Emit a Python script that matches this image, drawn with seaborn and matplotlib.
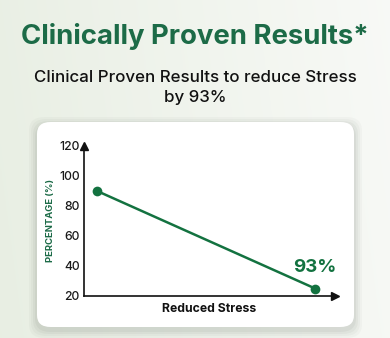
import numpy as np
import matplotlib
matplotlib.use("Agg")
import matplotlib.pyplot as plt
import seaborn as sns
import pandas as pd
from matplotlib.patches import FancyBboxPatch

stages = ["Start", "End"]
x_pos = [0, 1]
percentage = [90, 25]
y_ticks = [20, 40, 60, 80, 100, 120]
highlight_label = "93%"

sns.set_theme(style="white")
plt.rcParams['font.family'] = ['Inter', 'DejaVu Sans']

W, H = 390, 338
fig = plt.figure(figsize=(W/100, H/100), dpi=100)

# background gradient
bg = fig.add_axes([0, 0, 1, 1])
gx = np.linspace(0, 1, 200)
gy = np.linspace(0, 1, 200)
GX, GY = np.meshgrid(gx, gy)
c1 = np.array([0.91, 0.935, 0.89])
c2 = np.array([0.975, 0.98, 0.97])
t = np.clip(GX * 0.85 + (1 - GY) * 0.1, 0, 1)[..., None]
img = c1 * (1 - t) + c2 * t
bg.imshow(img, extent=[0, 1, 0, 1], aspect='auto', origin='upper')
bg.set_xlim(0, 1); bg.set_ylim(0, 1); bg.axis('off')

def fx(px): return px / W
def fy(py): return 1 - py / H

# shadow + card
for i, a in enumerate([0.035, 0.04, 0.05, 0.06]):
    pad = 8 - 2 * i
    sh = FancyBboxPatch((fx(37 - pad), fy(327 + pad + 3)), fx(317 + 2 * pad), (205 + 2 * pad) / H,
                        boxstyle="round,pad=0,rounding_size=0.04", transform=fig.transFigure,
                        facecolor=(0.3, 0.35, 0.3, a), edgecolor='none', zorder=1)
    fig.patches.append(sh)
card = FancyBboxPatch((fx(37), fy(327)), fx(317), 205 / H,
                      boxstyle="round,pad=0,rounding_size=0.035", transform=fig.transFigure,
                      facecolor='white', edgecolor='none', zorder=2)
fig.patches.append(card)

fig.text(0.5, fy(36), "Clinically Proven Results*", ha='center', va='center',
         fontsize=19.8, fontweight='bold', color='#1c6b47')
fig.text(0.5, fy(77), "Clinical Proven Results to reduce Stress", ha='center', va='center',
         fontsize=12.2, fontweight='medium', color='#111111')
fig.text(0.5, fy(98), "by 93%", ha='center', va='center',
         fontsize=12.2, fontweight='medium', color='#111111')

ax = fig.add_axes([fx(84), fy(296), (335 - 84) / W, (296 - 146) / H])
ax.set_facecolor('none')
ax.set_zorder(3)
df = pd.DataFrame({"x": x_pos, "pct": percentage, "stage": stages})
sns.lineplot(data=df, x="x", y="pct", ax=ax, color='#137240', linewidth=1.8,
             marker='o', markersize=7, markeredgewidth=0, clip_on=False)
ax.set_xlim(-0.06, 1.091)
ax.set_ylim(20, 120)
ax.set_yticks(y_ticks)
ax.set_yticklabels([str(v) for v in y_ticks], fontsize=8.8, fontweight='medium', color='#1a1a1a')
ax.set_xticks([])
ax.tick_params(axis='y', length=0, pad=3)
for s in ['top', 'right']:
    ax.spines[s].set_visible(False)
for s in ['left', 'bottom']:
    ax.spines[s].set_color('#111111')
    ax.spines[s].set_linewidth(1.2)
ax.plot(1, 0, ">", transform=ax.transAxes, clip_on=False, color='#111111', markersize=6)
ax.plot(0, 1, "^", transform=ax.transAxes, clip_on=False, color='#111111', markersize=6)
ax.set_xlabel("Reduced Stress", fontsize=8.8, fontweight='bold', color='#111111', labelpad=5)
ax.set_ylabel("PERCENTAGE (%)", fontsize=6.8, fontweight='bold', color='#1c6b47', labelpad=3)
ax.annotate(highlight_label, xy=(x_pos[1], percentage[1]), xytext=(0, 15),
            textcoords='offset points', ha='center', va='center',
            fontsize=13.5, fontweight='bold', color='#137240')

fig.savefig("out.png", dpi=100)
